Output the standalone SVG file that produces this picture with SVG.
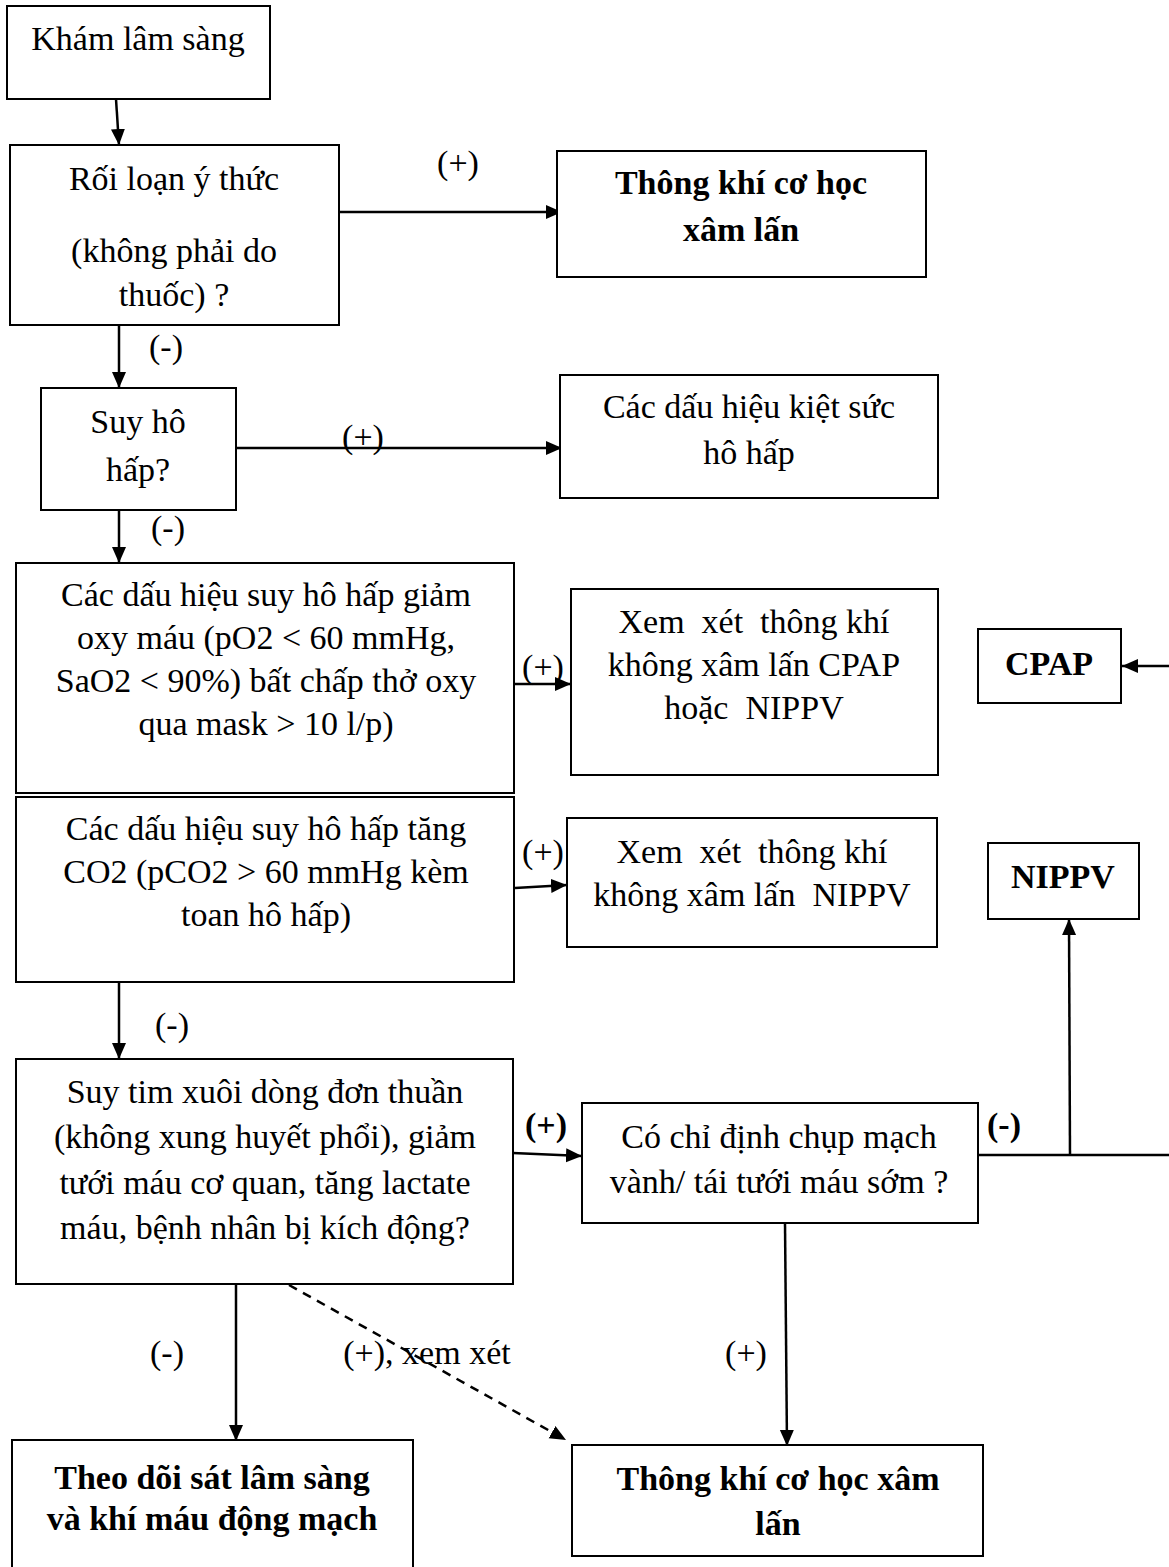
<svg xmlns="http://www.w3.org/2000/svg" width="1169" height="1567" viewBox="0 0 1169 1567">
<style>
.box{fill:#fff;stroke:#000;stroke-width:2}
.t{font-family:"Liberation Serif","Times New Roman",serif;font-size:34px;fill:#000;text-anchor:middle;white-space:pre}
.b{font-weight:bold}
.c{fill:none;stroke:#000;stroke-width:2.5}
.d{stroke-dasharray:9,7}
</style>
<defs>
<marker id="ah" markerUnits="userSpaceOnUse" markerWidth="18" markerHeight="16" refX="16" refY="7" orient="auto">
<path d="M0,0 L16,7 L0,14 z" fill="#000"/>
</marker>
</defs>
<rect width="1169" height="1567" fill="#fff"/>
<g id="connectors">
<line class="c" x1="116" y1="99" x2="119" y2="145" marker-end="url(#ah)"/>
<line class="c" x1="339" y1="212" x2="562" y2="212" marker-end="url(#ah)"/>
<line class="c" x1="119" y1="325" x2="119" y2="388" marker-end="url(#ah)"/>
<line class="c" x1="236" y1="448" x2="562" y2="448" marker-end="url(#ah)"/>
<line class="c" x1="119" y1="510" x2="119" y2="563" marker-end="url(#ah)"/>
<line class="c" x1="512" y1="684" x2="571" y2="684" marker-end="url(#ah)"/>
<line class="c" x1="515" y1="888" x2="567" y2="885" marker-end="url(#ah)"/>
<line class="c" x1="1169" y1="666" x2="1122" y2="666" marker-end="url(#ah)"/>
<line class="c" x1="119" y1="982" x2="119" y2="1059" marker-end="url(#ah)"/>
<line class="c" x1="513" y1="1153" x2="582" y2="1156" marker-end="url(#ah)"/>
<line class="c" x1="978" y1="1155" x2="1169" y2="1155"/>
<line class="c" x1="1070" y1="1155" x2="1069" y2="919" marker-end="url(#ah)"/>
<line class="c" x1="236" y1="1284" x2="236" y2="1441" marker-end="url(#ah)"/>
<line class="c d" x1="289" y1="1285" x2="566" y2="1440" marker-end="url(#ah)"/>
<line class="c" x1="785" y1="1223" x2="787" y2="1446" marker-end="url(#ah)"/>
<text class="t" x="458" y="174">(+)</text>
<text class="t" x="166" y="358">(-)</text>
<text class="t" x="363" y="448">(+)</text>
<text class="t" x="168" y="539">(-)</text>
<text class="t" x="543" y="678">(+)</text>
<text class="t" x="543" y="863">(+)</text>
<text class="t" x="172" y="1036">(-)</text>
<text class="t b" x="546" y="1136">(+)</text>
<text class="t b" x="1004" y="1136">(-)</text>
<text class="t" x="167" y="1364">(-)</text>
<text class="t" x="427" y="1364">(+), xem xét</text>
<text class="t" x="746" y="1364">(+)</text>
</g>
<g id="n1"><rect class="box" x="7" y="6" width="263" height="93"/>
<text class="t" x="138" y="50">Khám lâm sàng</text></g>
<g id="n2"><rect class="box" x="10" y="145" width="329" height="180"/>
<text class="t" x="174" y="190">Rối loạn ý thức</text>
<text class="t" x="174" y="262">(không phải do</text>
<text class="t" x="174" y="306">thuốc) ?</text></g>
<g id="n3"><rect class="box" x="557" y="151" width="369" height="126"/>
<text class="t b" x="741" y="194">Thông khí cơ học</text>
<text class="t b" x="741" y="241">xâm lấn</text></g>
<g id="n4"><rect class="box" x="41" y="388" width="195" height="122"/>
<text class="t" x="138" y="433">Suy hô</text>
<text class="t" x="138" y="481">hấp?</text></g>
<g id="n5"><rect class="box" x="560" y="375" width="378" height="123"/>
<text class="t" x="749" y="418">Các dấu hiệu kiệt sức</text>
<text class="t" x="749" y="464">hô hấp</text></g>
<g id="n6"><rect class="box" x="16" y="563" width="498" height="230"/>
<text class="t" x="266" y="606">Các dấu hiệu suy hô hấp giảm</text>
<text class="t" x="266" y="649">oxy máu (pO2 &lt; 60 mmHg,</text>
<text class="t" x="266" y="692">SaO2 &lt; 90%) bất chấp thở oxy</text>
<text class="t" x="266" y="735">qua mask &gt; 10 l/p)</text></g>
<g id="n7"><rect class="box" x="571" y="589" width="367" height="186"/>
<text class="t" x="754" y="633">Xem  xét  thông khí</text>
<text class="t" x="754" y="676">không xâm lấn CPAP</text>
<text class="t" x="754" y="719">hoặc  NIPPV</text></g>
<g id="n8"><rect class="box" x="978" y="629" width="143" height="74"/>
<text class="t b" x="1049" y="675">CPAP</text></g>
<g id="n9"><rect class="box" x="16" y="797" width="498" height="185"/>
<text class="t" x="266" y="840">Các dấu hiệu suy hô hấp tăng</text>
<text class="t" x="266" y="883">CO2 (pCO2 &gt; 60 mmHg kèm</text>
<text class="t" x="266" y="926">toan hô hấp)</text></g>
<g id="n10"><rect class="box" x="567" y="818" width="370" height="129"/>
<text class="t" x="752" y="863">Xem  xét  thông khí</text>
<text class="t" x="752" y="906">không xâm lấn  NIPPV</text></g>
<g id="n11"><rect class="box" x="988" y="843" width="151" height="76"/>
<text class="t b" x="1063" y="888">NIPPV</text></g>
<g id="n12"><rect class="box" x="16" y="1059" width="497" height="225"/>
<text class="t" x="265" y="1103">Suy tim xuôi dòng đơn thuần</text>
<text class="t" x="265" y="1148">(không xung huyết phổi), giảm</text>
<text class="t" x="265" y="1194">tưới máu cơ quan, tăng lactate</text>
<text class="t" x="265" y="1239">máu, bệnh nhân bị kích động?</text></g>
<g id="n13"><rect class="box" x="582" y="1103" width="396" height="120"/>
<text class="t" x="779" y="1148">Có chỉ định chụp mạch</text>
<text class="t" x="779" y="1193">vành/ tái tưới máu sớm ?</text></g>
<g id="n14"><rect class="box" x="12" y="1440" width="401" height="140"/>
<text class="t b" x="212" y="1489">Theo dõi sát lâm sàng</text>
<text class="t b" x="212" y="1530">và khí máu động mạch</text></g>
<g id="n15"><rect class="box" x="572" y="1445" width="411" height="111"/>
<text class="t b" x="778" y="1490">Thông khí cơ học xâm</text>
<text class="t b" x="778" y="1535">lấn</text></g>
</svg>
